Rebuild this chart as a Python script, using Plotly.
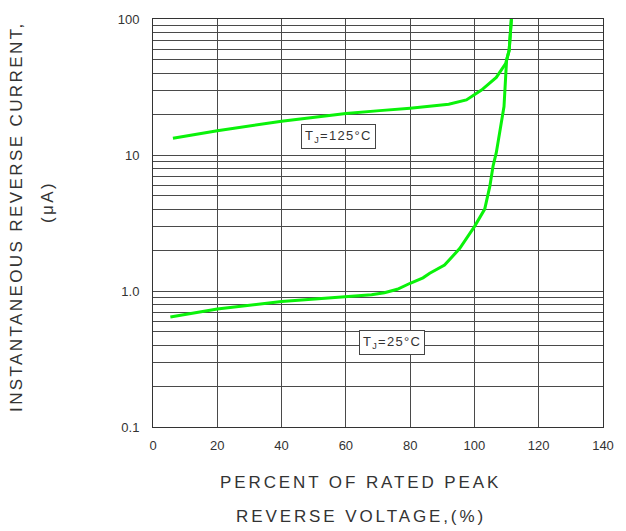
import plotly.graph_objects as go

# 125°C curve
x125 = [6.2, 20, 40, 60, 70.5, 80, 92, 97.5, 102.2, 106.8, 109.7, 110.8, 111.5]
y125 = [13.3, 15.1, 17.7, 20.2, 21.2, 22.1, 23.6, 25.4, 30, 37.2, 47, 58.7, 100]

# 25°C curve
x25 = [5.4, 20, 40, 60, 68, 72, 76, 80, 84, 86.1, 90.7, 95.4, 100.1, 103.2, 104.8, 105.8, 106.8, 109.2, 110, 110.8, 111.5]
y25 = [0.643, 0.736, 0.838, 0.9, 0.937, 0.97, 1.03, 1.14, 1.25, 1.35, 1.55, 2.05, 3.0, 4.0, 5.9, 8.3, 10.4, 22.7, 49.7, 58.7, 100]

x_ticks = [0, 20, 40, 60, 80, 100, 120, 140]
y_ticks = [0.1, 1, 10, 100]
y_ticklabels = ["0.1", "1.0", "10", "100"]
y_minor = [m * d for d in [0.1, 1, 10] for m in range(2, 10)]

FONT = "Liberation Sans, Arial, sans-serif"
GREEN = "#0af20a"
GRID = "#4a4a4a"
TXT = "#333333"

fig = go.Figure()
fig.add_trace(go.Scatter(x=x125, y=y125, mode="lines",
                         line=dict(color=GREEN, width=3), showlegend=False))
fig.add_trace(go.Scatter(x=x25, y=y25, mode="lines",
                         line=dict(color=GREEN, width=3), showlegend=False))

fig.update_layout(
    width=626, height=531,
    margin=dict(l=153, r=23, t=15, b=104),
    paper_bgcolor="white", plot_bgcolor="white",
    font=dict(family=FONT, color=TXT, size=13),
    xaxis=dict(range=[0, 140], tickmode="array", tickvals=x_ticks,
               showgrid=True, gridcolor=GRID, gridwidth=1,
               showline=True, linecolor="#333", linewidth=1, mirror=True,
               zeroline=False, ticks="", ticklabelstandoff=6,
               tickfont=dict(size=13, color=TXT)),
    yaxis=dict(type="log", range=[-1, 2], tickmode="array",
               tickvals=y_ticks, ticktext=y_ticklabels,
               showgrid=True, gridcolor=GRID, gridwidth=1,
               minor=dict(tickmode="array", tickvals=y_minor, showgrid=True,
                          gridcolor=GRID, gridwidth=1, ticks=""),
               showline=True, linecolor="#333", linewidth=1, mirror=True,
               zeroline=False, ticks="", ticklabelstandoff=10,
               tickfont=dict(size=13, color=TXT)),
)

ls = '<span style="letter-spacing:2.9px">{}</span>'
ly = '<span style="letter-spacing:2.4px">{}</span>'
fig.add_annotation(xref="paper", yref="paper", x=0.4616, y=-0.1368,
                   text=ls.format("PERCENT OF RATED PEAK"), showarrow=False,
                   font=dict(size=17, color=TXT), xanchor="center", yanchor="middle")
fig.add_annotation(xref="paper", yref="paper", x=0.4616, y=-0.2193,
                   text=ls.format("REVERSE VOLTAGE,(%)"), showarrow=False,
                   font=dict(size=17, color=TXT), xanchor="center", yanchor="middle")
fig.add_annotation(xref="paper", yref="paper", x=-0.305, y=0.5166,
                   text=ly.format("INSTANTANEOUS REVERSE CURRENT,"), showarrow=False,
                   textangle=-90, font=dict(size=17, color=TXT),
                   xanchor="center", yanchor="middle")
fig.add_annotation(xref="paper", yref="paper", x=-0.2340, y=0.5507,
                   text=ly.format("(μA)"), showarrow=False,
                   textangle=-90, font=dict(size=17, color=TXT),
                   xanchor="center", yanchor="middle")

box = '<span style="letter-spacing:1.3px">T<sub>J</sub>=%s°C</span>'
fig.add_annotation(x=57.8, y=1.136, text=box % "125", showarrow=False,
                   bgcolor="white", bordercolor="#444", borderwidth=1, borderpad=3,
                   font=dict(size=13, color=TXT))
fig.add_annotation(x=74.3, y=-0.376, text=box % "25", showarrow=False,
                   bgcolor="white", bordercolor="#444", borderwidth=1, borderpad=3,
                   font=dict(size=13, color=TXT))

fig.write_html("out.html", config={"displayModeBar": False},
               post_script="document.body.style.margin='0';document.body.style.overflow='hidden';")
